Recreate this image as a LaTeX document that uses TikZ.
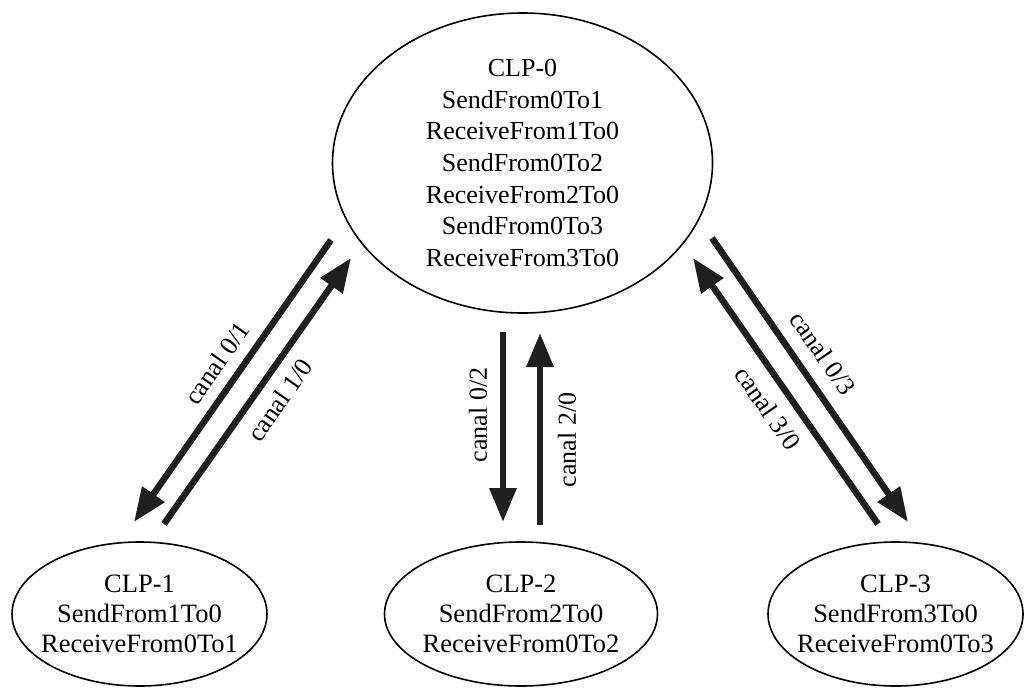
\documentclass[tikz,border=0pt]{standalone}
\usepackage{fontspec}
\setmainfont{Liberation Serif}
\usetikzlibrary{shapes.geometric,arrows.meta}
\begin{document}
\begin{tikzpicture}[x=1pt,y=-1pt,
  clp/.style={draw, ellipse, line width=1.6pt, inner sep=-20pt, align=center,
    font=\fontsize{26}{31.7}\selectfont},
  clpsmall/.style={clp, minimum height=144pt, font=\fontsize{26.5}{30}\selectfont},
  chan/.style={line width=6.5pt, color=black!88, -{Triangle[length=34pt,width=26pt]}},
  lab/.style={font=\fontsize{26}{30}\selectfont, inner sep=0pt}]
\useasboundingbox (0,0) rectangle (1024,688);
\node[clp, minimum width=380pt, minimum height=300pt] (c0) at (522.5,163)
  {CLP-0\\SendFrom0To1\\ReceiveFrom1To0\\SendFrom0To2\\ReceiveFrom2To0\\SendFrom0To3\\ReceiveFrom3To0};
\node[clpsmall, minimum width=255pt] (c1) at (139.5,614)
  {CLP-1\\SendFrom1To0\\ReceiveFrom0To1};
\node[clpsmall, minimum width=273pt] (c2) at (521,614)
  {CLP-2\\SendFrom2To0\\ReceiveFrom0To2};
\node[clpsmall, minimum width=255pt] (c3) at (895.5,614)
  {CLP-3\\SendFrom3To0\\ReceiveFrom0To3};
% connector end points
\coordinate (a01s) at (331,240);
\coordinate (a01e) at (134,522);
\coordinate (a10s) at (164,524);
\coordinate (a10e) at (351,258);
\coordinate (a02s) at (503,332);
\coordinate (a02e) at (503,522);
\coordinate (a20s) at (540,525);
\coordinate (a20e) at (540,333);
\coordinate (a03s) at (712,238);
\coordinate (a03e) at (908,522);
\coordinate (a30s) at (878,524);
\coordinate (a30e) at (693,258);
\draw[chan] (a01s) -- (a01e);
\draw[chan] (a10s) -- (a10e);
\draw[chan] (a02s) -- (a02e);
\draw[chan] (a20s) -- (a20e);
\draw[chan] (a03s) -- (a03e);
\draw[chan] (a30s) -- (a30e);
\node[lab, rotate=55] (l01) at (217,363) {canal 0/1};
\node[lab, rotate=55] (l10) at (280,400) {canal 1/0};
\node[lab, rotate=90] (l02) at (478,415) {canal 0/2};
\node[lab, rotate=90] (l20) at (567,440) {canal 2/0};
\node[lab, rotate=-55.4] (l03) at (823,353) {canal 0/3};
\node[lab, rotate=-55.4] (l30) at (768,408) {canal 3/0};
\end{tikzpicture}
\end{document}
